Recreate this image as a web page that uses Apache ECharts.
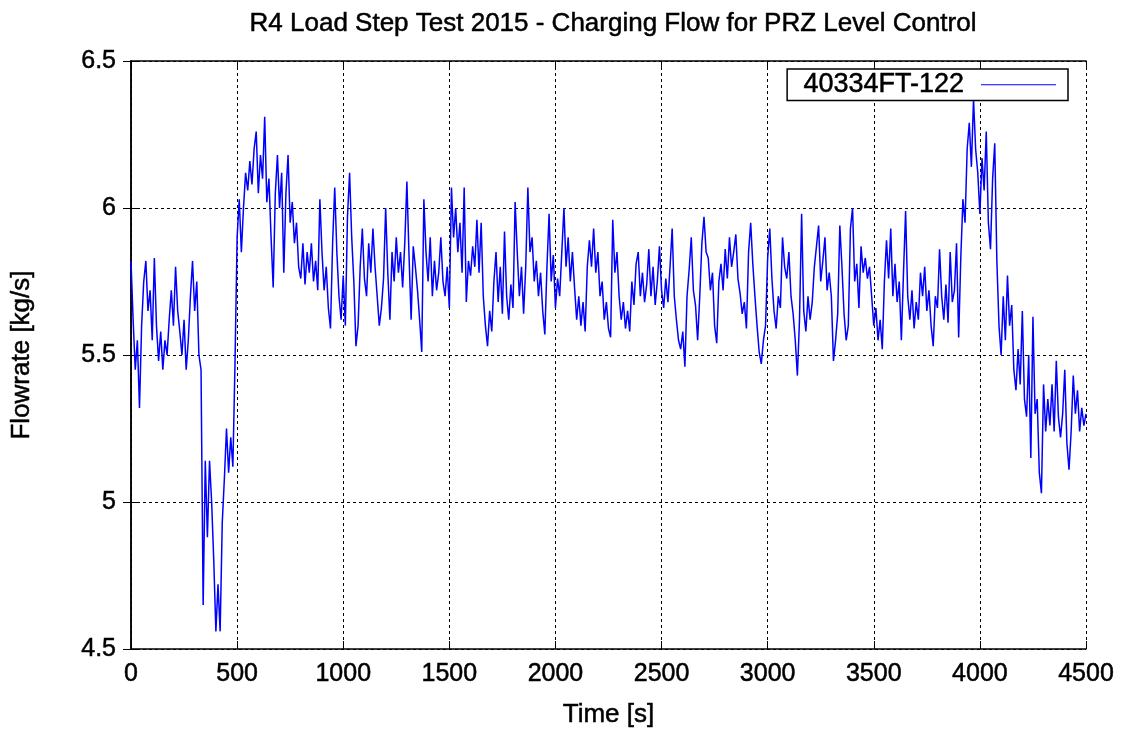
<!DOCTYPE html>
<html>
<head>
<meta charset="utf-8">
<title>R4 Load Step Test 2015 - Charging Flow</title>
<script src="https://cdn.jsdelivr.net/npm/echarts@6/dist/echarts.min.js"></script>
<style>
  html, body { margin: 0; padding: 0; background: #fff; }
  #chart { width: 1127px; height: 736px; }
</style>
</head>
<body>
<div id="chart"></div>
<script>
// 采样参数：从 0 s 开始，每 10 s 一个点
var startTime = 0;
var sampleStep = 10;

// 40334FT-122 流量读数 [kg/s]，每行 100 s
var flowValues = [
    5.82,5.62,5.45,5.55,5.32,5.60,5.75,5.82,5.65,5.72,
    5.55,5.83,5.60,5.48,5.58,5.45,5.55,5.50,5.62,5.72,
    5.60,5.80,5.65,5.58,5.50,5.62,5.45,5.55,5.70,5.82,
    5.65,5.75,5.50,5.45,4.65,5.14,4.88,5.14,5.00,4.80,
    4.56,4.72,4.56,4.93,5.08,5.25,5.10,5.22,5.12,5.47,
    5.90,6.03,5.85,6.00,6.12,6.06,6.16,6.08,6.20,6.26,
    6.05,6.18,6.10,6.31,6.02,6.10,5.90,5.73,6.05,6.18,
    6.00,6.12,5.78,6.05,6.18,5.95,6.02,5.88,5.95,5.80,
    5.76,5.88,5.74,5.85,5.78,5.88,5.75,5.82,5.72,6.03,
    5.85,5.72,5.80,5.66,5.59,5.88,6.07,5.85,5.70,5.62,
    5.77,5.60,5.97,6.12,5.90,5.75,5.53,5.60,5.80,5.93,
    5.76,5.70,5.88,5.78,5.93,5.80,5.70,5.60,5.66,5.76,
    6.00,5.78,5.62,5.85,5.75,5.90,5.78,5.85,5.73,5.88,
    6.09,5.84,5.62,5.87,5.80,5.72,5.62,5.51,6.03,5.85,
    5.75,5.90,5.70,5.82,5.72,5.78,5.90,5.75,5.70,5.80,
    5.66,6.07,5.90,6.00,5.85,5.95,5.78,6.07,5.68,5.82,
    5.77,5.87,5.80,5.96,5.78,5.95,5.70,5.60,5.53,5.65,
    5.58,5.75,5.85,5.68,5.80,5.64,5.92,5.70,5.62,5.74,
    5.66,6.02,5.85,5.70,5.80,5.64,5.80,6.07,5.85,5.90,
    5.75,5.82,5.70,5.78,5.65,5.57,5.80,5.98,5.75,5.84,
    5.66,5.76,5.70,5.85,6.00,5.80,5.90,5.75,5.85,5.73,
    5.62,5.70,5.60,5.68,5.58,5.80,5.89,5.80,5.93,5.78,
    5.85,5.70,5.75,5.62,5.68,5.59,5.56,5.96,5.78,5.85,
    5.70,5.62,5.68,5.59,5.65,5.58,5.75,5.67,5.81,5.85,
    5.70,5.78,5.68,5.74,5.86,5.70,5.80,5.67,5.75,5.87,
    5.72,5.66,5.76,5.68,5.80,5.93,5.70,5.62,5.55,5.52,
    5.58,5.46,5.70,5.79,5.90,5.72,5.67,5.55,5.70,5.88,
    5.97,5.85,5.83,5.72,5.78,5.60,5.54,5.75,5.81,5.72,
    5.86,5.76,5.90,5.80,5.85,5.91,5.76,5.71,5.64,5.68,
    5.59,5.85,5.95,5.81,5.70,5.60,5.51,5.47,5.55,5.60,
    5.83,5.93,5.76,5.65,5.59,5.70,5.66,5.90,5.80,5.76,
    5.85,5.70,5.64,5.55,5.43,5.62,5.98,5.65,5.58,5.70,
    5.62,5.68,5.80,5.87,5.94,5.75,5.82,5.90,5.72,5.78,
    5.70,5.48,5.55,5.64,5.94,5.80,5.64,5.55,5.60,5.93,
    6.00,5.75,5.81,5.66,5.87,5.78,5.83,5.76,5.80,5.70,
    5.60,5.66,5.55,5.62,5.52,5.75,5.89,5.76,5.93,5.70,
    5.81,5.68,5.75,5.55,5.78,5.99,5.70,5.62,5.72,5.59,
    5.68,5.62,5.78,5.70,5.80,5.65,5.72,5.60,5.53,5.70,
    5.66,5.86,5.70,5.62,5.74,5.61,5.85,5.68,5.72,5.88,
    5.56,5.83,6.03,5.95,6.20,6.29,6.14,6.37,6.20,6.12,
    5.98,6.17,6.06,6.26,5.95,5.86,6.10,6.22,5.82,5.60,
    5.50,5.70,5.55,5.77,5.60,5.67,5.45,5.38,5.52,5.40,
    5.65,5.35,5.29,5.50,5.15,5.63,5.30,5.35,5.10,5.03,
    5.40,5.24,5.35,5.26,5.40,5.24,5.48,5.29,5.22,5.30,
    5.45,5.20,5.11,5.24,5.43,5.30,5.38,5.24,5.32,5.26,
    5.30
];

// 坐标轴刻度
var xTicks = [0, 500, 1000, 1500, 2000, 2500, 3000, 3500, 4000, 4500];
var yTicks = [4.5, 5, 5.5, 6, 6.5];

var seriesName = "40334FT-122";
var fontName = "Liberation Sans, Arial, sans-serif";

// gnuplot 的字形偏粗，用同色描边稍微加重
function heavyText(size) {
    return {
        fontFamily: fontName,
        fontSize: size,
        fontWeight: "normal",
        color: "#000",
        textBorderColor: "#000",
        textBorderWidth: 0.5
    };
}

/**
 * 组装 [时间, 流量] 点对
 */
function buildPoints() {
    var points = [];
    for (var i = 0; i < flowValues.length; i++) {
        points.push([startTime + i * sampleStep, flowValues[i]]);
    }
    return points;
}

var gridLine = {
    show: true,
    lineStyle: { color: "#000", width: 1, type: [3, 3] }
};

// 镜像坐标轴（上、右），只画向内的刻度
function mirrorAxis(base, pos) {
    return {
        type: "value",
        position: pos,
        min: base.min,
        max: base.max,
        interval: base.interval,
        axisLine: { show: true, lineStyle: { color: "#000", width: 1.5 } },
        axisTick: { show: true, inside: true, length: 8, lineStyle: { color: "#000" } },
        axisLabel: { show: false },
        splitLine: { show: false }
    };
}

var xBase = { min: xTicks[0], max: xTicks[xTicks.length - 1], interval: xTicks[1] - xTicks[0] };
var yBase = { min: yTicks[0], max: yTicks[yTicks.length - 1], interval: yTicks[1] - yTicks[0] };

function plainNumber(v) {
    return String(v);
}

var chart = echarts.init(document.getElementById("chart"));
chart.setOption({
    animation: false,
    backgroundColor: "#fff",
    textStyle: { fontFamily: fontName },
    title: {
        text: "R4 Load Step Test 2015 - Charging Flow for PRZ Level Control",
        left: 608,
        top: 6,
        textAlign: "center",
        textStyle: heavyText(26)
    },
    grid: { left: 131, right: 41, top: 61, bottom: 87 },
    legend: {
        data: [seriesName],
        right: 59,
        top: 69,
        align: "right",
        orient: "vertical",
        icon: "rect",
        itemWidth: 75,
        itemHeight: 1,
        borderColor: "#000",
        borderWidth: 1.5,
        borderRadius: 0,
        padding: [2, 12, 2, 16],
        backgroundColor: "#fff",
        textStyle: $extend(heavyText(27), { padding: [0, 12, 0, 0] })
    },
    xAxis: [
        {
            type: "value",
            position: "bottom",
            min: xBase.min,
            max: xBase.max,
            interval: xBase.interval,
            name: "Time [s]",
            nameLocation: "middle",
            nameGap: 53,
            nameTextStyle: heavyText(26),
            axisLine: { show: true, lineStyle: { color: "#000", width: 1.5 } },
            axisTick: { show: true, inside: true, length: 8, lineStyle: { color: "#000" } },
            axisLabel: $extend(heavyText(25), { margin: 13, formatter: plainNumber }),
            splitLine: gridLine
        },
        mirrorAxis(xBase, "top")
    ],
    yAxis: [
        {
            type: "value",
            position: "left",
            min: yBase.min,
            max: yBase.max,
            interval: yBase.interval,
            name: "Flowrate [kg/s]",
            nameLocation: "middle",
            nameGap: 96,
            nameRotate: 90,
            nameTextStyle: heavyText(26),
            axisLine: { show: true, lineStyle: { color: "#000", width: 1.5 } },
            axisTick: { show: true, inside: true, length: 8, lineStyle: { color: "#000" } },
            axisLabel: $extend(heavyText(25), { margin: 15, formatter: plainNumber }),
            splitLine: gridLine
        },
        mirrorAxis(yBase, "right")
    ],
    series: [
        {
            name: seriesName,
            type: "line",
            xAxisIndex: 0,
            yAxisIndex: 0,
            showSymbol: false,
            symbol: "none",
            color: "#0000ff",
            lineStyle: { color: "#0000ff", width: 1.5 },
            data: buildPoints()
        }
    ]
});

function $extend(a, b) {
    for (var k in b) {
        a[k] = b[k];
    }
    return a;
}
</script>
</body>
</html>
